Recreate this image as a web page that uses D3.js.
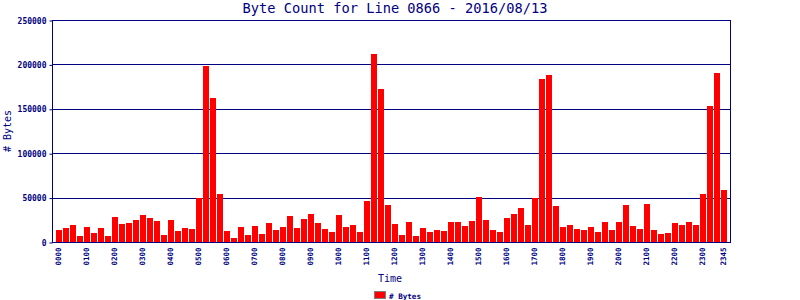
<!DOCTYPE html>
<html>
<head>
<meta charset="utf-8">
<script src="https://cdn.jsdelivr.net/npm/d3@7"></script>
<style>
  body { margin: 0; background: #fff; }
  svg { display: block; font-family: "DejaVu Sans Mono", monospace; }
</style>
</head>
<body>
<svg width="800" height="300"></svg>
<script>
// 15 minute slots for the day
var times = [];
for (var h = 0; h < 24; h++) {
  ["00", "15", "30", "45"].forEach(function(m) { times.push((h < 10 ? "0" : "") + h + m); });
}

var bytes = [
  13900, 16100, 19500, 7100, 17200, 10500, 16100, 7100,
  28500, 20600, 21700, 25100, 30700, 27300, 24000, 8200,
  25100, 12700, 16100, 15000, 49500, 198100, 162200, 54300,
  12700, 4900, 17200, 8200, 18400, 9400, 21700, 13900,
  17200, 29600, 16100, 26200, 31800, 21700, 15000, 11600,
  30700, 17200, 19500, 11600, 46400, 211600, 172300, 41900,
  20600, 8200, 22800, 7100, 16100, 11600, 13900, 12700,
  22800, 22800, 18400, 24000, 50900, 25100, 13900, 11600,
  27300, 31800, 38600, 19500, 49800, 183500, 188000, 40800,
  17200, 19500, 15000, 13900, 17200, 11600, 22800, 13900,
  22800, 41900, 18400, 15000, 43100, 13900, 9400, 10500,
  21700, 19500, 22800, 19500, 54300, 153200, 190200, 58800
];

var yTicks = [0, 50000, 100000, 150000, 200000, 250000];
var xLabels = times.filter(function(t, i) { return t.slice(2) == "00" || i == times.length - 1; });

var navy = "#000080";
var svg = d3.select("svg");
var plotL = 52, plotR = 730, plotT = 20, plotB = 242;

var x = d3.scaleBand().domain(times).range([plotL + 0.5, plotR + 0.5]).paddingInner(1 / 7).paddingOuter(0.5);
var y = d3.scaleLinear().domain([0, 250000]).range([plotB, plotT]);

// title
svg.append("text")
    .attr("x", 395).attr("y", 13)
    .attr("text-anchor", "middle")
    .attr("fill", navy)
    .style("font-size", "13.7px")
    .text("Byte Count for Line 0866 - 2016/08/13");

// grid lines
svg.append("g").selectAll("line")
  .data(yTicks)
  .enter().append("line")
    .attr("x1", plotL).attr("x2", plotR)
    .attr("y1", function(d) { return Math.round(y(d)) + 0.5; })
    .attr("y2", function(d) { return Math.round(y(d)) + 0.5; })
    .attr("stroke", navy);

// bars
svg.append("g").selectAll("rect")
  .data(bytes)
  .enter().append("rect")
    .attr("x", function(d, i) { return x(times[i]); })
    .attr("y", function(d) { return y(d); })
    .attr("width", x.bandwidth())
    .attr("height", function(d) { return plotB - y(d); })
    .attr("fill", "#ff0000")
    .attr("shape-rendering", "crispEdges");

// frame
svg.append("rect")
    .attr("x", plotL + 0.5).attr("y", plotT + 0.5)
    .attr("width", plotR - plotL).attr("height", plotB - plotT)
    .attr("fill", "none").attr("stroke", navy);

// y axis
var yAxis = svg.append("g")
    .attr("transform", "translate(" + (plotL + 0.5) + ",0.5)")
    .call(d3.axisLeft(y).tickValues(yTicks).tickSize(3).tickPadding(3).tickFormat(d3.format("d")));
yAxis.select(".domain").remove();
yAxis.selectAll("line").attr("stroke", navy);
yAxis.selectAll("text")
    .attr("fill", navy)
    .style("font-family", "DejaVu Sans Mono")
    .style("font-size", "8px")
    .style("font-weight", "bold");

// x axis
var xAxis = svg.append("g")
    .attr("transform", "translate(0," + (plotB + 0.5) + ")")
    .call(d3.axisBottom(x).tickValues(xLabels).tickSize(0));
xAxis.select(".domain").remove();
xAxis.selectAll("text")
    .attr("fill", navy)
    .attr("transform", "rotate(-90)")
    .attr("x", -5).attr("y", 0).attr("dy", "0.32em")
    .attr("text-anchor", "end")
    .style("font-family", "DejaVu Sans Mono")
    .style("font-size", "7.5px")
    .style("font-weight", "bold");

// axis titles
svg.append("text")
    .attr("transform", "translate(11,131) rotate(-90)")
    .attr("text-anchor", "middle")
    .attr("fill", navy)
    .style("font-size", "10px")
    .text("# Bytes");

svg.append("text")
    .attr("x", 390).attr("y", 282)
    .attr("text-anchor", "middle")
    .attr("fill", navy)
    .style("font-size", "10px")
    .text("Time");

// legend
svg.append("rect")
    .attr("x", 374.5).attr("y", 291.5).attr("width", 11).attr("height", 7)
    .attr("fill", "#ff0000").attr("stroke", "#808080");
svg.append("text")
    .attr("x", 389).attr("y", 299)
    .attr("fill", navy)
    .style("font-size", "7.6px")
    .style("font-weight", "bold")
    .text("# Bytes");
</script>
</body>
</html>
